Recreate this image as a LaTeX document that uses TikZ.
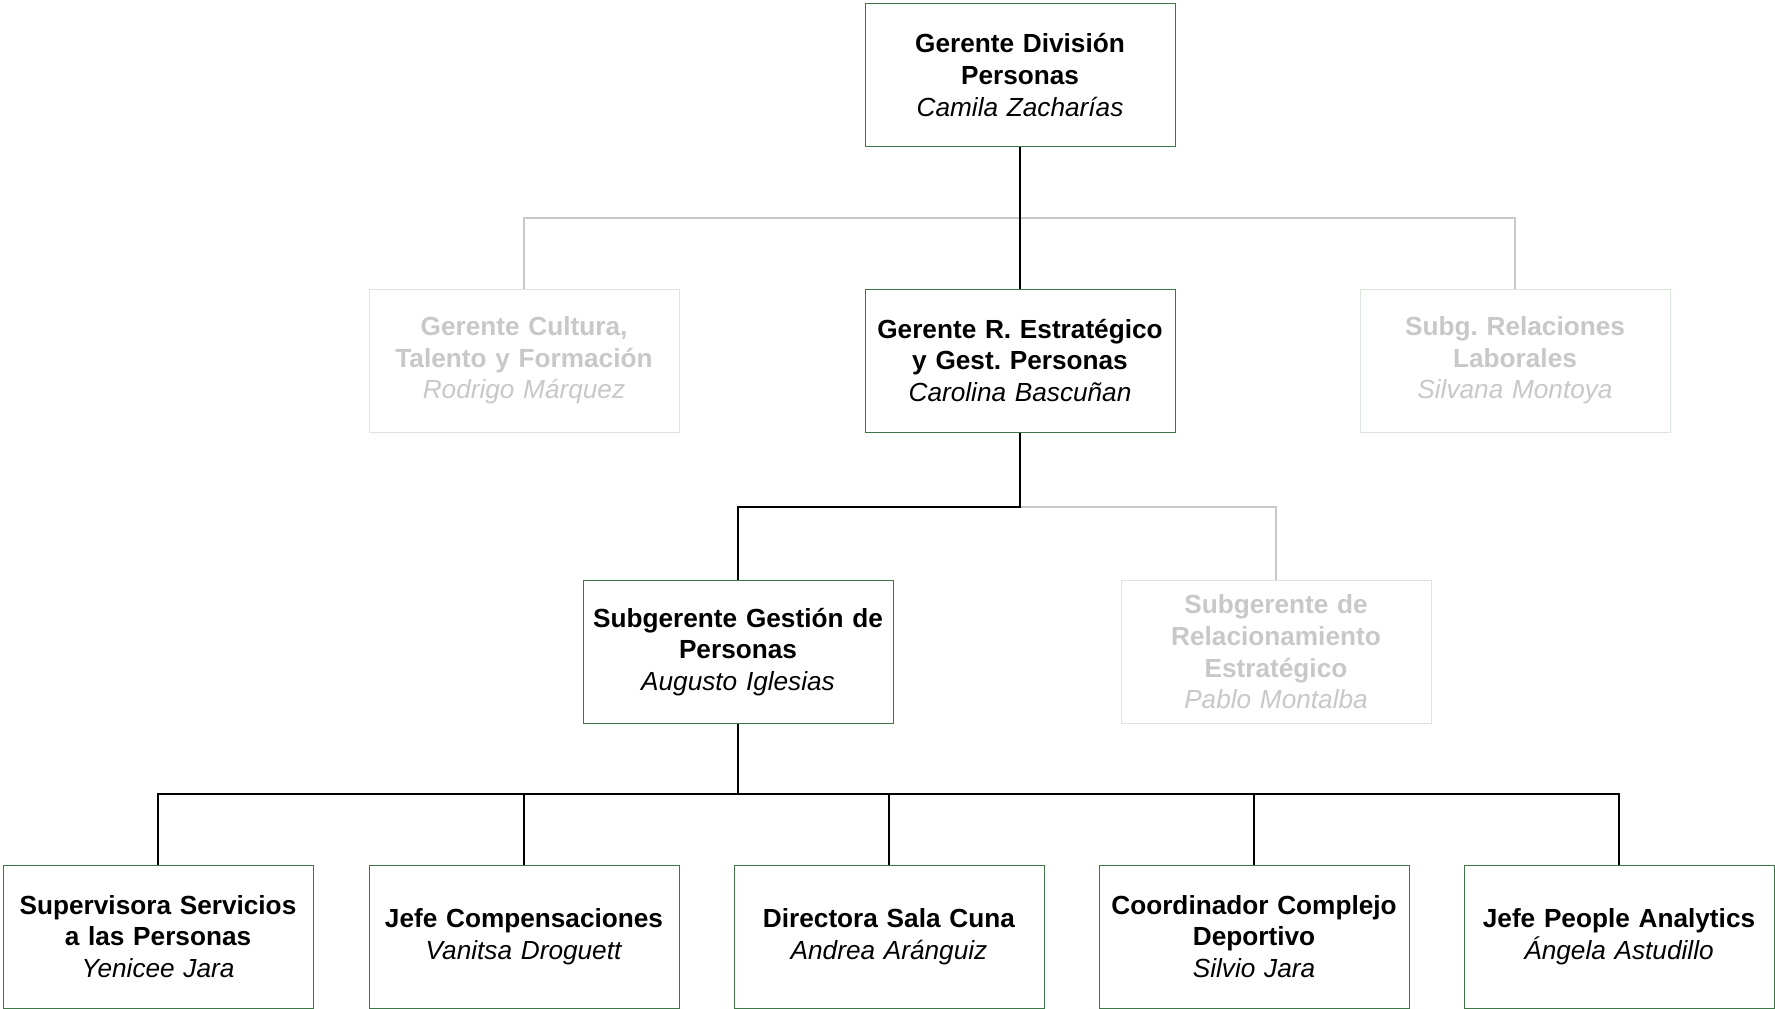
\documentclass[tikz,border=0pt]{standalone}
\usepackage{fontspec}
\setmainfont{Liberation Sans}
\usepackage{xcolor}
\usepackage{tikz}
\usetikzlibrary{positioning, calc}
\frenchspacing

\definecolor{boxgreen}{RGB}{62,118,72}
\definecolor{ghostgreen}{RGB}{218,230,218}
\definecolor{ghostgray}{RGB}{200,200,200}

\newcommand{\puesto}[2]{\textbf{#1}\\\textit{#2}}

\begin{document}
\begin{tikzpicture}[
    x=1pt, y=-1pt,
    box/.style={rectangle, draw=boxgreen, line width=1pt, fill=white, minimum width=310pt, minimum height=143pt, inner sep=0pt, text width=304pt, align=center, font=\fontsize{26.2}{31.7}\selectfont},
    ghost/.style={box, draw=ghostgreen, text=ghostgray},
    link/.style={draw=black, line width=2pt},
    ghostlink/.style={draw=ghostgray, line width=2pt}
]
\useasboundingbox (0,0) rectangle (1775,1009);

% Nodes
\node[box] (gdp) at (1020,75) {\puesto{Gerente División\\Personas}{Camila Zacharías}};
\node[ghost] (gct) at (524,360.5) {\puesto{Gerente Cultura,\\Talento y Formación}{Rodrigo Márquez}};
\node[box] (gre) at (1020,360.5) {\puesto{Gerente R. Estratégico\\y Gest. Personas}{Carolina Bascuñan}};
\node[ghost] (srl) at (1515,360.5) {\puesto{Subg. Relaciones\\Laborales}{Silvana Montoya}};
\node[box] (sgp) at (738,652) {\puesto{Subgerente Gestión de\\Personas}{Augusto Iglesias}};
\node[ghost] (sre) at (1276,652) {\puesto{Subgerente de\\Relacionamiento\\Estratégico}{Pablo Montalba}};
\node[box] (sup) at (158,936.5) {\puesto{Supervisora Servicios\\a las Personas}{Yenicee Jara}};
\node[box] (comp) at (524,936.5) {\puesto{Jefe Compensaciones}{Vanitsa Droguett}};
\node[box] (cuna) at (889,936.5) {\puesto{Directora Sala Cuna}{Andrea Aránguiz}};
\node[box] (dep) at (1254,936.5) {\puesto{Coordinador Complejo\\Deportivo}{Silvio Jara}};
\node[box] (pa) at (1619,936.5) {\puesto{Jefe People Analytics}{Ángela Astudillo}};

% Junctions
\coordinate (j1) at (1020,218);
\coordinate (j2) at (1020,507);
\coordinate (j3) at (738,794);

% Paths
\draw[ghostlink] (gct.north) |- (j1) -| (srl.north);
\draw[link] (gdp.south) -- (gre.north);
\draw[ghostlink] (j2) -| (sre.north);
\draw[link] (gre.south) -- (j2) -| (sgp.north);
\draw[link] (sgp.south) -- (j3);
\foreach \n in {sup, comp, cuna, dep, pa}
    \draw[link] (j3) -| (\n.north);

\end{tikzpicture}
\end{document}
